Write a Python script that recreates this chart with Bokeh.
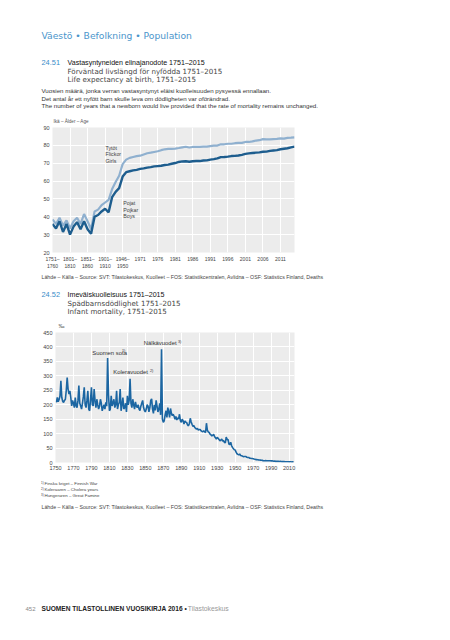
from bokeh.plotting import figure
from bokeh.models import Range1d, Label, FixedTicker
from bokeh.layouts import column
from bokeh.embed import file_html
from bokeh.resources import INLINE

# ---------------- Chart 24.51 data: life expectancy at birth ----------------
periods = ["1751–1760", "1761–1770", "1771–1780", "1781–1790", "1791–1800",
           "1801–1810", "1811–1820", "1821–1830", "1831–1840", "1841–1850",
           "1851–1860", "1861–1870", "1871–1880", "1881–1890", "1891–1900",
           "1901–1910", "1911–1920", "1921–1930", "1931–1940", "1941–1945",
           "1946–1950", "1951–1955", "1956–1960", "1961–1965", "1966–1970"] + \
          [str(y) for y in range(1971, 2016)]

boys = [36, 33.5, 37.5, 31.5, 36, 30, 34.5, 37, 33, 37.5, 33, 30.5, 40, 41, 43, 44.5,
        42.5, 51, 54, 56, 62.5, 65, 65.5, 66, 66.3,
        66.8, 67.1, 67.5, 67.8, 68.2, 68.4, 68.6, 69.0, 69.2, 69.7,
        70.1, 70.7, 71.0, 71.1, 70.8, 71.1, 71.2, 71.2, 71.5, 71.6,
        72.0, 72.3, 72.7, 73.4, 73.5, 73.7, 74.0, 74.1, 74.3, 74.7,
        75.2, 75.5, 75.7, 75.9, 76.1, 76.4, 76.5, 76.9, 77.1, 77.3,
        77.8, 78.1, 78.4, 78.9, 79.3]

girls = [38.5, 36, 39.5, 35, 38, 33.5, 37.5, 39.5, 36, 41.5, 37.5, 33, 43, 44, 46.5, 48,
         49.5, 55.5, 59.5, 63, 69.5, 72, 73, 73.5, 74,
         74.2, 74.9, 75.6, 75.9, 76.3, 76.7, 77.3, 77.8, 78.0, 78.0,
         78.2, 78.5, 78.9, 79.2, 78.8, 79.1, 79.1, 79.1, 79.3, 79.3,
         79.6, 79.8, 79.9, 80.6, 80.6, 80.9, 80.9, 81.2, 81.4, 81.4,
         81.9, 81.9, 82.2, 82.7, 82.9, 83.5, 83.4, 83.4, 83.5, 83.6,
         83.9, 83.8, 84.2, 84.3, 84.5]

le_yticks = [20, 30, 40, 50, 60, 70, 80, 90]

# ---------------- Chart 24.52 data: infant mortality (per mille) ----------------
im_years = list(range(1751, 2016))
infant = [
    208, 225, 210, 218, 230, 283, 225, 212, 208, 215,
    219, 250, 294, 254, 237, 248, 225, 196, 215, 205,
    190, 225, 196, 190, 215, 266, 205, 196, 185, 205,
    228, 260, 200, 190, 215, 248, 185, 179, 218, 260,
    200, 196, 254, 215, 190, 219, 200, 185, 195, 219,
    205, 179, 190, 200, 185, 208, 195, 362, 235, 179,
    185, 231, 196, 205, 219, 190, 200, 248, 185, 200,
    208, 254, 179, 200, 225, 185, 190, 205, 175, 231,
    200, 215, 290, 205, 190, 219, 200, 185, 210, 195,
    190, 200, 185, 180, 195, 205, 215, 190, 180, 175,
    185, 200, 195, 175, 190, 215, 220, 185, 170, 200,
    180, 215, 195, 175, 185, 205, 165, 392, 150, 139,
    144, 165, 179, 156, 190, 175, 156, 187, 170, 162,
    167, 160, 150, 159, 147, 155, 150, 167, 145, 139,
    150, 145, 133, 144, 140, 138, 130, 127, 135, 153,
    140, 132, 125, 128, 121, 118, 115, 118, 112, 114,
    114, 110, 108, 106, 110, 106, 104, 136, 112, 106,
    104, 98, 96, 92, 94, 98, 90, 86, 81, 87,
    84, 80, 75, 78, 81, 74, 76, 70, 68, 88,
    79, 80, 64, 62, 70, 58, 52, 48, 44, 43.5,
    35.6, 30.2, 28.1, 26.3, 29.7, 24.5, 23.4, 22.2, 20.3, 21.0,
    20.8, 20.5, 18.2, 17.0, 17.6, 15.0, 14.8, 14.1, 14.0, 13.2,
    12.3, 11.5, 10.0, 10.1, 9.6, 9.1, 8.8, 8.3, 7.6, 7.6,
    6.5, 6.0, 6.2, 6.5, 6.3, 5.8, 6.2, 6.1, 6.0, 5.6,
    5.8, 5.2, 4.4, 4.7, 3.9, 4.0, 3.9, 4.2, 3.6, 3.8,
    3.2, 3.0, 3.1, 3.3, 3.0, 2.8, 2.7, 2.6, 2.6, 2.3,
    2.4, 2.4, 1.8, 2.2, 1.7]

im_xticks = list(range(1750, 2011, 20))
im_yticks = list(range(0, 451, 50))

FONT = "Liberation Sans"
WIDE = "DejaVu Sans"
BLUE_HEAD = "#4b95cb"
NUM_BLUE = "#3a8cc8"
BOYS_C = "#1d5d8e"
GIRLS_C = "#8fb0cf"
IM_C = "#1c66a2"
SRC = ("Lähde – Källa – Source: SVT: Tilastokeskus, Kuolleet – FOS: Statistikcentralen, "
       "Avlidna – OSF: Statistics Finland, Deaths")

W = 442
PAGE_X0 = 0


def lab(p, x, y, text, size, color="#333", style_="normal", font=FONT):
    p.add_layout(Label(x=x, y=y, text=text, text_font_size=f"{size}px",
                       text_color=color, text_font=font, text_font_style=style_,
                       text_align="left", text_baseline="middle"))


def text_fig(y_top, y_bot):
    """A text-only panel whose data coordinates are page pixels."""
    p = figure(width=W, height=y_bot - y_top,
               x_range=Range1d(PAGE_X0, PAGE_X0 + W), y_range=Range1d(y_bot, y_top),
               x_axis_type=None, y_axis_type=None, output_backend="svg",
               toolbar_location=None, min_border=0, frame_align=False)
    p.grid.visible = False
    p.outline_line_color = None
    p.background_fill_color = "white"
    p.border_fill_color = "white"
    return p


def chart_fig(y_top, frame_top, frame_h, y_bot, left, frame_w, xr, yr):
    p = figure(width=W, height=y_bot - y_top, x_range=xr, y_range=yr,
               output_backend="svg", toolbar_location=None, frame_align=False,
               min_border_left=left - PAGE_X0, min_border_right=W - (left - PAGE_X0) - frame_w,
               min_border_top=frame_top - y_top,
               min_border_bottom=y_bot - frame_top - frame_h)
    p.background_fill_color = "#ececec"
    p.border_fill_color = "white"
    p.outline_line_color = None
    p.grid.grid_line_color = "white"
    p.grid.grid_line_width = 1
    for ax in p.axis:
        ax.axis_line_color = None
        ax.major_tick_line_color = None
        ax.minor_tick_line_color = None
        ax.major_tick_out = 0
        ax.major_tick_in = 0
        ax.minor_tick_out = 0
        ax.major_label_text_font = FONT
        ax.major_label_text_font_size = "5.5px"
        ax.major_label_text_color = "#444"
        ax.major_label_standoff = 3
    return p


# ---------------- Panel T1: header ----------------
t1 = text_fig(0, 124)
lab(t1, 41, 35, "Väestö • Befolkning • Population", 9.2, BLUE_HEAD, font=WIDE)
lab(t1, 41, 62, "24.51", 7.4, NUM_BLUE)
lab(t1, 67, 62, "Vastasyntyneiden elinajanodote 1751–2015", 7.1, "#111")
lab(t1, 67, 70.5, "Förväntad livslängd för nyfödda 1751–2015", 7.1, "#444", font=WIDE)
lab(t1, 67, 78.5, "Life expectancy at birth, 1751–2015", 7.1, "#444", font=WIDE)
lab(t1, 41, 90, "Vuosien määrä, jonka verran vastasyntynyt eläisi kuolleisuuden pysyessä ennallaan.", 6.15, "#333")
lab(t1, 41, 97.7, "Det antal år ett nyfött barn skulle leva om dödligheten var oförändrad.", 6.15, "#333")
lab(t1, 41, 105.3, "The number of years that a newborn would live provided that the rate of mortality remains unchanged.", 6.15, "#333")
lab(t1, 53, 120.8, "Ikä – Ålder – Age", 4.6, "#555")

# ---------------- Panel C1: life expectancy chart ----------------
N = len(periods)
C1_L, C1_FW, C1_FT, C1_FH = 52, 242, 127, 126
c1 = chart_fig(124, C1_FT, C1_FH, 271, C1_L, C1_FW, Range1d(0, N - 1), Range1d(20, 90))
xt = list(range(0, N, 5))
c1.xaxis.ticker = FixedTicker(ticks=xt)
c1.xaxis.major_label_overrides = {i: periods[i].replace("–", "–\n") for i in xt}
c1.xaxis.major_label_text_font_size = "5px"
c1.yaxis.ticker = FixedTicker(ticks=le_yticks)
idx = list(range(N))
c1.line(idx, girls, line_color=GIRLS_C, line_width=2.2)
c1.line(idx, boys, line_color=BOYS_C, line_width=2.4)


def conv1(px, py):
    return ((px - C1_L) / C1_FW * (N - 1), 90 - (py - C1_FT) / C1_FH * 70)


for k, s in enumerate(["Tytöt", "Flickor", "Girls"]):
    lab(c1, *conv1(105, 147.3 + 6.6 * k), s, 5.3, "#444")
for k, s in enumerate(["Pojat", "Pojkar", "Boys"]):
    lab(c1, *conv1(122.7, 203.3 + 6.6 * k), s, 5.3, "#444")

# ---------------- Panel T2: source + second header ----------------
t2 = text_fig(271, 329)
lab(t2, 41, 276.5, SRC, 5.25, "#444")
lab(t2, 41, 294.3, "24.52", 7.4, NUM_BLUE)
lab(t2, 67, 294.3, "Imeväiskuolleisuus 1751–2015", 7.1, "#111")
lab(t2, 67, 302.5, "Spädbarnsdödlighet 1751–2015", 7.1, "#444", font=WIDE)
lab(t2, 67, 310.5, "Infant mortality, 1751–2015", 7.1, "#444", font=WIDE)
lab(t2, 58, 325.5, "‰", 6.0, "#555")

# ---------------- Panel C2: infant mortality chart ----------------
X0, X1 = 1750, 2016
C2_L, C2_FW, C2_FT, C2_FH = 55, 239, 332, 130
c2 = chart_fig(329, C2_FT, C2_FH, 474, C2_L, C2_FW, Range1d(X0, X1), Range1d(0, 450))
c2.xaxis.ticker = FixedTicker(ticks=im_xticks)
c2.yaxis.ticker = FixedTicker(ticks=im_yticks)
c2.line(im_years, infant, line_color=IM_C, line_width=1.6)


def conv2(px, py):
    return (X0 + (px - C2_L) / C2_FW * (X1 - X0), 450 - (py - C2_FT) / C2_FH * 450)


lab(c2, *conv2(91.7, 352.3), "Suomen sota", 5.9, "#333")
lab(c2, *conv2(121.5, 350.5), "1)", 3.8, "#333")
lab(c2, *conv2(112.7, 371.7), "Koleravuodet", 5.9, "#333")
lab(c2, *conv2(149.5, 370), "2)", 3.8, "#333")
lab(c2, *conv2(143.3, 342.7), "Nälkävuodet", 5.9, "#333")
lab(c2, *conv2(177.5, 341), "3)", 3.8, "#333")

# ---------------- Panel T3: footnotes, source, footer ----------------
t3 = text_fig(474, 632)
for k, s in enumerate(["Finska kriget – Finnish War", "Koleraåren – Cholera years",
                       "Hungeråren – Great Famine"]):
    lab(t3, 40.5, 482.3 + 6.1 * k, f"{k + 1})", 3.0, "#444")
    lab(t3, 44, 483 + 6.1 * k, s, 4.4, "#444")
lab(t3, 41, 506.7, SRC, 5.25, "#444")
lab(t3, 25, 608.3, "452", 6.0, "#888")
lab(t3, 41, 608.3, "SUOMEN TILASTOLLINEN VUOSIKIRJA 2016 •", 6.6, "#222", "bold")
lab(t3, 187.3, 608.3, "Tilastokeskus", 6.8, "#999")

layout = column(t1, c1, t2, c2, t3, spacing=0)
open("out.html", "w").write(file_html(layout, INLINE))
